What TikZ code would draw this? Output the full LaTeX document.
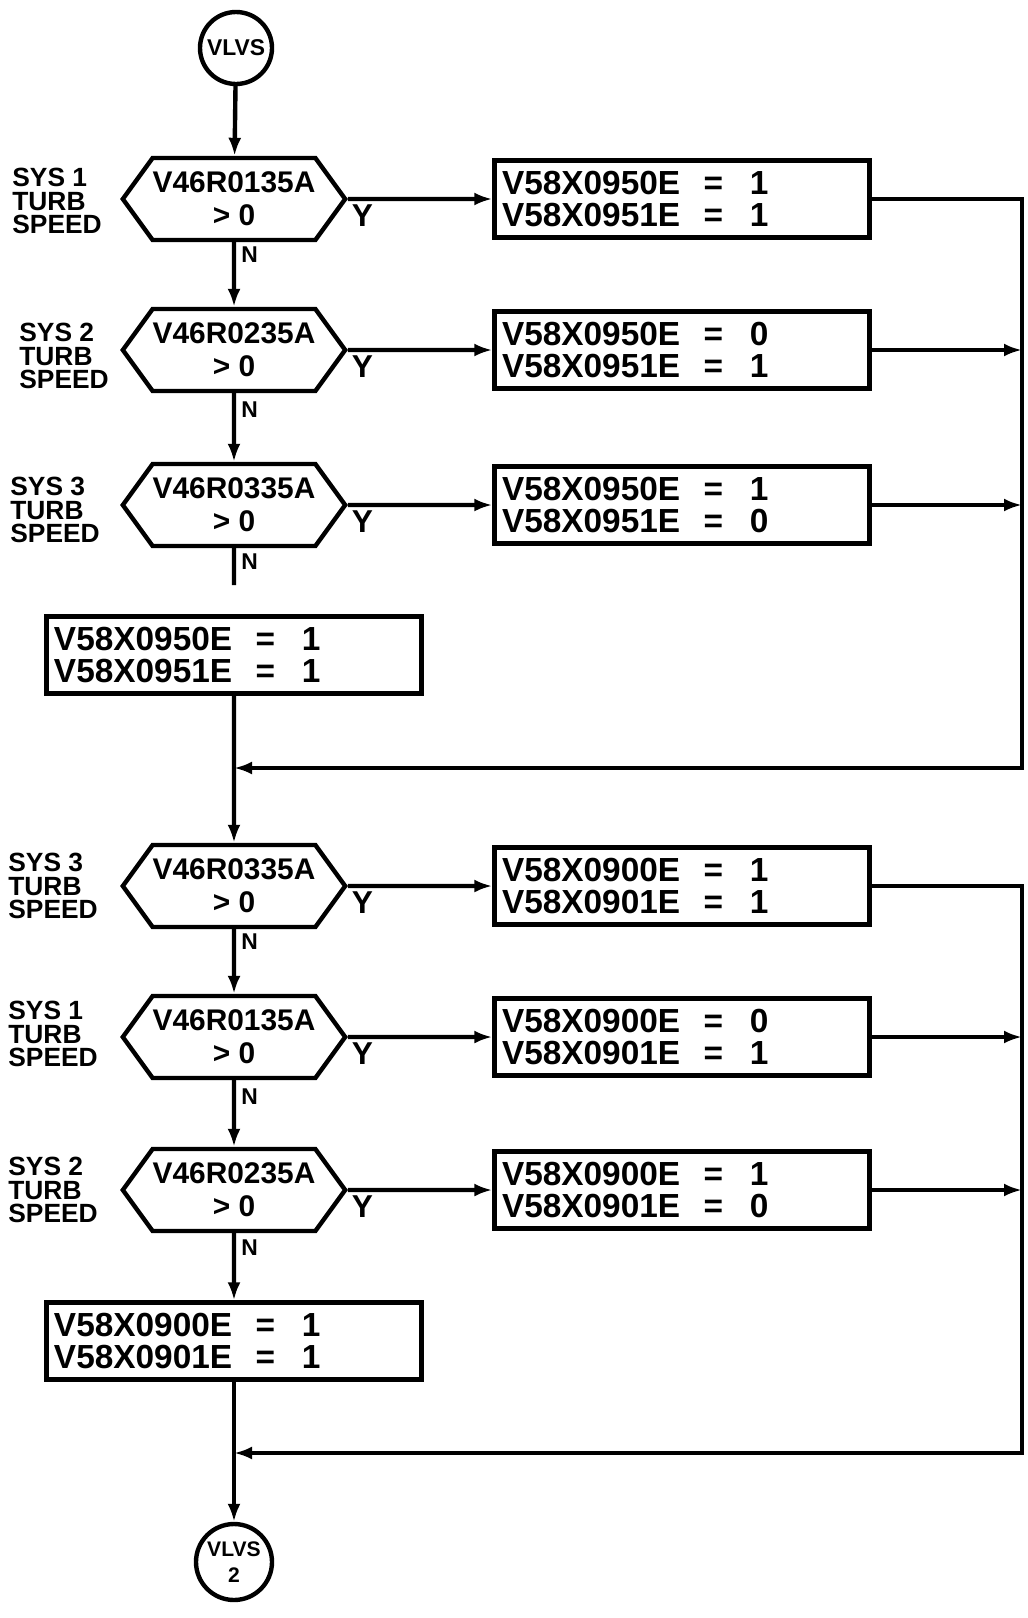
\documentclass[tikz,border=0pt]{standalone}
\usepackage{fontspec}
\setmainfont{Liberation Sans}
\usetikzlibrary{arrows.meta,positioning,shapes.symbols}
\tikzset{
  kapocs/.style={circle,draw,line width=2.5pt,minimum size=14.4mm,inner sep=0pt,align=center,
    font=\bfseries\fontsize{13}{13}\selectfont},
  dont/.style={signal,signal to=east and west,signal pointer angle=108,draw,line width=2.5pt,
    minimum width=44.4mm,minimum height=16.4mm,inner sep=0pt,align=center,
    font=\bfseries\fontsize{17}{19}\selectfont},
  ertek/.style={draw,line width=2.5pt,align=left,text width=72mm,inner xsep=1.5mm,
    minimum height=15.4mm,font=\bfseries\fontsize{19}{18.2}\selectfont},
  rendsz/.style={anchor=west,align=left,inner sep=0pt,font=\bfseries\fontsize{15}{13.5}\selectfont},
  jel/.style={inner sep=2pt,font=\bfseries\fontsize{18}{18}\selectfont},
  kisjel/.style={inner sep=3pt,font=\bfseries\fontsize{13}{13}\selectfont},
  nyil/.style={line width=2.5pt,-{Latex[length=3.6mm,width=2.6mm]}},
  vonal/.style={line width=2.5pt},
}
\newcommand{\egyenlo}{\hspace{0.7em}=\hspace{0.8em}}
\begin{document}
\begin{tikzpicture}[x=0.2mm,y=-0.2mm]
  \useasboundingbox (0,0) rectangle (1028,1618);
  \node[kapocs] (be) at (236,48) {VLVS};
  % donesek es ertekadasok
  \foreach \i/\y/\p/\a/\b in {1/199/01/1/1, 2/350/02/0/1, 3/505/03/1/0} {
    \node[dont] (d\i) at (234,\y) {V46R\p35A\\> 0};
    \node[ertek] (e\i) at (682,\y) {V58X0950E\egyenlo\a\\V58X0951E\egyenlo\b};
    \draw[nyil] (d\i) -- node[pos=0.1,below,jel] {Y} (e\i);
  }
  \foreach \i/\y/\p/\a/\b in {4/886/03/1/1, 5/1037/01/0/1, 6/1190/02/1/0} {
    \node[dont] (d\i) at (234,\y) {V46R\p35A\\> 0};
    \node[ertek] (e\i) at (682,\y) {V58X0900E\egyenlo\a\\V58X0901E\egyenlo\b};
    \draw[nyil] (d\i) -- node[pos=0.1,below,jel] {Y} (e\i);
  }
  \foreach \i/\x/\y/\n in {1/12/201/1, 2/19/356/2, 3/10/510/3, 4/8/886/3, 5/8/1034/1, 6/8/1190/2}
    \node[rendsz] (s\i) at (\x,\y) {SYS \n\\TURB\\SPEED};
  \node[ertek] (eA) at (234,655) {V58X0950E\egyenlo1\\V58X0951E\egyenlo1};
  \node[ertek] (eB) at (234,1341) {V58X0900E\egyenlo1\\V58X0901E\egyenlo1};
  \node[kapocs,minimum size=15.2mm,font=\bfseries\fontsize{12}{15}\selectfont] (ki) at (234,1562) {VLVS\\2};
  \coordinate (csonk) at (234,585);
  \coordinate (m1) at (234,768);
  \coordinate (m2) at (234,1453);
  \coordinate (sin1) at (1022,768);
  \coordinate (sin2) at (1022,1453);
  % fo ag
  \draw[nyil] (be) -- (d1);
  \draw[nyil] (d1) -- node[pos=0.2,right,kisjel] {N} (d2);
  \draw[nyil] (d2) -- node[pos=0.24,right,kisjel] {N} (d3);
  \draw[vonal] (d3) -- node[pos=0.36,right,kisjel] {N} (csonk);
  \draw[nyil] (eA) -- (d4);
  \draw[nyil] (d4) -- node[pos=0.19,right,kisjel] {N} (d5);
  \draw[nyil] (d5) -- node[pos=0.25,right,kisjel] {N} (d6);
  \draw[nyil] (d6) -- node[pos=0.22,right,kisjel] {N} (eB);
  \draw[nyil] (eB) -- (ki);
  % visszavezetes
  \draw[nyil] (e1) -| (sin1) -- (m1);
  \draw[nyil] (e2) -- (e2 -| sin1);
  \draw[nyil] (e3) -- (e3 -| sin1);
  \draw[nyil] (e4) -| (sin2) -- (m2);
  \draw[nyil] (e5) -- (e5 -| sin2);
  \draw[nyil] (e6) -- (e6 -| sin2);
\end{tikzpicture}
\end{document}
